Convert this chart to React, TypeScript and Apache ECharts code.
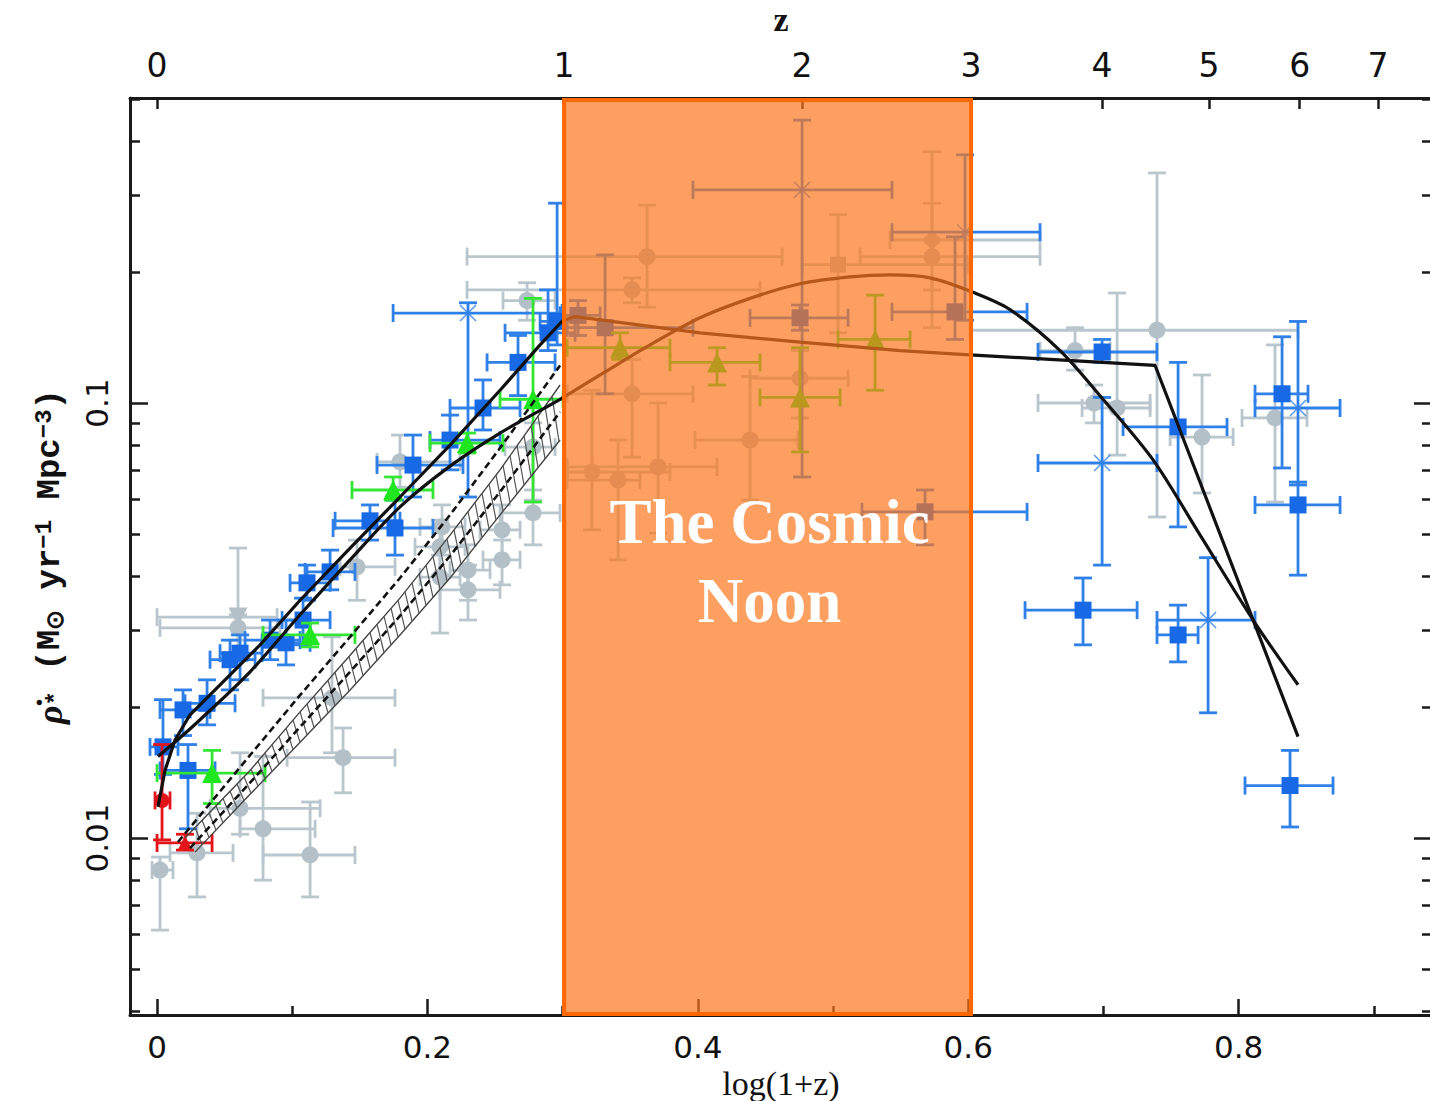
import React, { useEffect, useRef } from "react";
import * as echarts from "echarts";

// ---------- axes ----------
const xTickValues = [0, 0.2, 0.4, 0.6, 0.8];
const xMinorTickValues = [0.1, 0.3, 0.5, 0.7, 0.9];
const zTickLabels = [0, 1, 2, 3, 4, 5, 6, 7];
const yTickValues = [0.01, 0.1];
const yMinorTickValues = [
  0.004, 0.005, 0.006, 0.007, 0.008, 0.009,
  0.02, 0.03, 0.04, 0.05, 0.06, 0.07, 0.08, 0.09,
  0.2, 0.3, 0.4, 0.5,
];
const cosmicNoonZ = [1, 3];
const cosmicNoonLabelY = 0.0432;

// ---------- data: [log(1+z), rho, xLo, xHi, yLo, yHi] ----------
const grayCircles = [
  [0.0022, 0.00844, -0.0037, 0.0118, 0.00614, 0.00904],
  [0.0296, 0.00924, 0.0096, 0.0562, 0.00732, 0.0114],
  [0.0614, 0.0117, 0.0392, 0.1206, 0.0102, 0.0157],
  [0.0784, 0.0105, 0.0614, 0.1169, 0.008, 0.0154],
  [0.1132, 0.00914, 0.0784, 0.1464, 0.00732, 0.0121],
  [0.1376, 0.0153, 0.0962, 0.176, 0.0127, 0.0179],
  [0.1294, 0.021, 0.0784, 0.176, 0.0157, 0.029],
  [0.0599, 0.0304, 0.0022, 0.091, 0.0285, 0.0326],
  [0.1479, 0.042, 0.1354, 0.176, 0.0352, 0.0484],
  [0.2093, 0.0467, 0.1908, 0.2278, 0.0402, 0.0538],
  [0.2093, 0.0398, 0.1945, 0.2241, 0.0296, 0.0447],
  [0.23, 0.0413, 0.2167, 0.2463, 0.0352, 0.0472],
  [0.23, 0.0372, 0.2093, 0.2537, 0.0317, 0.0424],
  [0.2552, 0.0511, 0.2389, 0.2685, 0.0436, 0.0583],
  [0.2552, 0.0436, 0.2411, 0.2685, 0.0382, 0.0484],
  [0.2781, 0.0559, 0.2537, 0.2981, 0.0472, 0.0631],
  [0.2781, 0.0792, 0.2574, 0.2944, 0.0598, 0.09],
  [0.1797, 0.0732, 0.1627, 0.2241, 0.064, 0.0844],
  [0.2108, 0.0519, 0.1945, 0.2278, 0.0467, 0.0583],
  [0.2737, 0.172, 0.2559, 0.2944, 0.155, 0.189],
  [0.3624, 0.217, 0.2293, 0.4623, 0.166, 0.285],
  [0.3513, 0.182, 0.2293, 0.446, 0.17, 0.194],
  [0.3513, 0.105, 0.3033, 0.3964, 0.0751, 0.126],
  [0.3217, 0.0694, 0.3033, 0.3794, 0.0511, 0.107],
  [0.341, 0.0665, 0.3033, 0.3572, 0.0436, 0.0822],
  [0.3706, 0.0713, 0.3033, 0.4142, 0.0502, 0.1],
  [0.4386, 0.0822, 0.3979, 0.4741, 0.0598, 0.115],
  [0.4756, 0.114, 0.4386, 0.5111, 0.0924, 0.132],
  [0.5732, 0.217, 0.52, 0.6531, 0.149, 0.378],
  [0.7396, 0.147, 0.6013, 0.8439, 0.0547, 0.338],
  [0.679, 0.132, 0.6531, 0.7049, 0.119, 0.149],
  [0.7101, 0.0974, 0.6842, 0.7345, 0.0759, 0.179],
  [0.7729, 0.0835, 0.7493, 0.7959, 0.0621, 0.116],
  [0.8269, 0.0924, 0.8025, 0.8506, 0.0592, 0.136],
  [0.693, 0.1, 0.6516, 0.7345, 0.09, 0.11],
];
const graySquares = [[0.5037, 0.208, 0.4771, 0.5999, 0.145, 0.271]];
const grayDiamonds = [[0.5732, 0.237, 0.5422, 0.6531, 0.182, 0.288]];
const grayTriangles = [[0.0599, 0.0322, 0, 0.0888, 0.0257, 0.0464]];

const blueSquares = [
  [0.0044, 0.0162, -0.0052, 0.0155, 0.014, 0.0208],
  [0.0192, 0.0197, 0.0022, 0.0392, 0.0172, 0.0219],
  [0.037, 0.0204, 0.0207, 0.0577, 0.0182, 0.0231],
  [0.0229, 0.0143, 0.0022, 0.0429, 0.0105, 0.0164],
  [0.054, 0.0257, 0.0392, 0.0725, 0.0219, 0.0285],
  [0.0614, 0.0266, 0.0466, 0.0777, 0.0231, 0.0293],
  [0.0836, 0.0285, 0.0651, 0.1058, 0.0257, 0.0317],
  [0.0954, 0.0281, 0.0777, 0.1132, 0.025, 0.0317],
  [0.108, 0.0317, 0.0925, 0.128, 0.0278, 0.0356],
  [0.1109, 0.0386, 0.0984, 0.128, 0.0352, 0.0424],
  [0.128, 0.0409, 0.1095, 0.1464, 0.0372, 0.0459],
  [0.1575, 0.0536, 0.1317, 0.1797, 0.0484, 0.0583],
  [0.176, 0.0516, 0.1302, 0.2041, 0.0447, 0.0598],
  [0.1893, 0.072, 0.1627, 0.2263, 0.0608, 0.0844],
  [0.2167, 0.0822, 0.2019, 0.2537, 0.0702, 0.0938],
  [0.2411, 0.0974, 0.2167, 0.2685, 0.0867, 0.113],
  [0.267, 0.124, 0.2441, 0.2944, 0.104, 0.143],
  [0.2892, 0.145, 0.2574, 0.3092, 0.132, 0.182],
  [0.2959, 0.154, 0.2833, 0.3092, 0.136, 0.288],
  [0.3114, 0.159, 0.2981, 0.3277, 0.143, 0.172],
  [0.3314, 0.149, 0.3033, 0.3964, 0.105, 0.219],
  [0.4756, 0.157, 0.4386, 0.5111, 0.147, 0.168],
  [0.5902, 0.162, 0.5436, 0.6435, 0.14, 0.241],
  [0.568, 0.0562, 0.5214, 0.6435, 0.0472, 0.0631],
  [0.699, 0.131, 0.6516, 0.7396, 0.124, 0.14],
  [0.7552, 0.0881, 0.7145, 0.7914, 0.0519, 0.124],
  [0.8321, 0.105, 0.8121, 0.8513, 0.0709, 0.142],
  [0.8439, 0.0583, 0.8121, 0.875, 0.0402, 0.0658],
  [0.6849, 0.0334, 0.642, 0.7249, 0.0278, 0.0396],
  [0.7552, 0.0293, 0.7396, 0.77, 0.0254, 0.0343],
  [0.838, 0.0132, 0.8047, 0.8698, 0.0106, 0.0159],
];
const blueCrosses = [
  [0.23, 0.161, 0.1746, 0.2996, 0.0608, 0.17],
  [0.4771, 0.309, 0.3964, 0.5436, 0.0676, 0.447],
  [0.5976, 0.247, 0.5436, 0.6531, 0.155, 0.372],
  [0.699, 0.0728, 0.6516, 0.7396, 0.0424, 0.103],
  [0.7774, 0.0317, 0.7396, 0.8121, 0.0194, 0.0441],
  [0.8439, 0.0974, 0.8121, 0.875, 0.0648, 0.154],
];
const greenTriangles = [
  [0.0407, 0.0141, 0, 0.0799, 0.012, 0.0159],
  [0.1132, 0.0293, 0.0784, 0.1464, 0.0275, 0.0312],
  [0.1746, 0.0631, 0.1442, 0.2041, 0.0598, 0.0676],
  [0.2293, 0.0809, 0.2019, 0.2559, 0.0768, 0.0853],
  [0.2781, 0.102, 0.2537, 0.3003, 0.0592, 0.174],
  [0.3425, 0.134, 0.3033, 0.3794, 0.126, 0.145],
  [0.4142, 0.124, 0.3794, 0.446, 0.11, 0.134],
  [0.4756, 0.103, 0.446, 0.5052, 0.0772, 0.134],
  [0.5311, 0.14, 0.5037, 0.557, 0.107, 0.177],
];
const redCircles = [[0.0037, 0.0122, -0.0015, 0.0096, 0.0099, 0.0164]];
const redStars = [[0.0207, 0.00974, 0, 0.0407, 0.00938, 0.0102]];

// ---------- fits ----------
const fitBroken = [
  [0.0007, 0.0118], [0.0059, 0.0143], [0.0133, 0.0168], [0.0244, 0.0192],
  [0.0466, 0.0225], [0.0762, 0.0278], [0.1058, 0.0352], [0.1428, 0.0464],
  [0.1797, 0.0608], [0.2167, 0.08], [0.2537, 0.107], [0.2833, 0.136],
  [0.3003, 0.155], [0.3092, 0.158], [0.4016, 0.145], [0.4756, 0.138],
  [0.5496, 0.132], [0.6013, 0.129], [0.6605, 0.126], [0.7382, 0.122],
  [0.8439, 0.0171],
];
const fitSmooth = [
  [0.0007, 0.0154], [0.017, 0.017], [0.0318, 0.0187], [0.0688, 0.0241],
  [0.1058, 0.0326], [0.1428, 0.0436], [0.1797, 0.0577], [0.2167, 0.0716],
  [0.2537, 0.0853], [0.2981, 0.102], [0.3277, 0.116], [0.3646, 0.136],
  [0.4016, 0.157], [0.4386, 0.174], [0.4756, 0.188], [0.5126, 0.195],
  [0.5422, 0.197], [0.5717, 0.194], [0.605, 0.179], [0.6309, 0.164],
  [0.6679, 0.132], [0.6997, 0.102], [0.7367, 0.074], [0.7715, 0.0497],
  [0.8107, 0.0317], [0.8439, 0.0225],
];
const dashedUpper = [
  [0.0155, 0.00979], [0.0688, 0.0155], [0.1058, 0.0213], [0.1428, 0.029],
  [0.1797, 0.0396], [0.2167, 0.0553], [0.2537, 0.0788], [0.2981, 0.122],
];
const dashedLower = [
  [0.0244, 0.00948], [0.0688, 0.0134], [0.1058, 0.018], [0.1428, 0.0241],
  [0.1797, 0.0324], [0.2167, 0.0445], [0.2537, 0.0625], [0.2981, 0.0954],
];
const bandUpper = [
  [0.0207, 0.01], [0.0688, 0.0143], [0.1058, 0.0195], [0.1428, 0.0263],
  [0.1797, 0.0356], [0.2167, 0.0497], [0.2537, 0.0702], [0.2981, 0.11],
];
const bandLower = [
  [0.0281, 0.00928], [0.0688, 0.0126], [0.1058, 0.0166], [0.1428, 0.0219],
  [0.1797, 0.0293], [0.2167, 0.0396], [0.2537, 0.0553], [0.2981, 0.0822],
];

const X_MIN = -0.02;
const X_MAX = 0.943;
const Y_MIN = 0.003918;
const Y_MAX = 0.5026;

const FRAME = "#1a1a1a";

function errorBars(rows: number[][], color: string, z: number) {
  return {
    type: "custom",
    z,
    data: rows,
    encode: { x: [0, 2, 3], y: [1, 4, 5] },
    renderItem: (_p: any, api: any) => {
      const x = api.value(0), y = api.value(1);
      const pL = api.coord([api.value(2), y]);
      const pR = api.coord([api.value(3), y]);
      const pB = api.coord([x, api.value(4)]);
      const pT = api.coord([x, api.value(5)]);
      const c = 9;
      const style = { stroke: color, lineWidth: 2.8 };
      const seg = (x1: number, y1: number, x2: number, y2: number) => ({
        type: "line", shape: { x1, y1, x2, y2 }, style,
      });
      return {
        type: "group",
        children: [
          seg(pL[0], pL[1], pR[0], pR[1]),
          seg(pB[0], pB[1], pT[0], pT[1]),
          seg(pL[0], pL[1] - c, pL[0], pL[1] + c),
          seg(pR[0], pR[1] - c, pR[0], pR[1] + c),
          seg(pB[0] - c, pB[1], pB[0] + c, pB[1]),
          seg(pT[0] - c, pT[1], pT[0] + c, pT[1]),
        ],
      };
    },
  };
}

function markers(rows: number[][], symbol: string, size: number, color: string, z: number, extra: any = {}) {
  return {
    type: "scatter",
    z,
    symbol,
    symbolSize: size,
    data: rows.map((r) => [r[0], r[1]]),
    itemStyle: { color, opacity: 1 },
    ...extra,
  };
}

function fitLine(pts: number[][], dashed: boolean, width: number, z: number, smooth: number | boolean = false) {
  return {
    type: "line",
    z,
    data: pts,
    showSymbol: false,
    smooth,
    lineStyle: { color: "#111", width, type: dashed ? [7, 4] : "solid" },
  };
}

function interpY(pts: number[][], px: number) {
  for (let i = 0; i < pts.length - 1; i++) {
    const a = pts[i], b = pts[i + 1];
    if (px >= a[0] && px <= b[0]) {
      const t = (px - a[0]) / (b[0] - a[0] || 1);
      return a[1] + t * (b[1] - a[1]);
    }
  }
  return pts[pts.length - 1][1];
}

const bandSeries = {
  type: "custom",
  z: 6,
  data: [[0.15, 0.03]],
  renderItem: (_p: any, api: any) => {
    const up = bandUpper.map((p) => api.coord(p));
    const lo = bandLower.map((p) => api.coord(p));
    const children: any[] = [
      { type: "polyline", shape: { points: up }, style: { stroke: "#444", lineWidth: 1.4, fill: null } },
      { type: "polyline", shape: { points: lo }, style: { stroke: "#444", lineWidth: 1.4, fill: null } },
    ];
    const x0 = Math.max(up[0][0], lo[0][0]);
    const x1 = Math.min(up[up.length - 1][0], lo[lo.length - 1][0]);
    for (let px = x0; px <= x1 - 7; px += 7) {
      children.push({
        type: "line",
        shape: { x1: px, y1: interpY(up, px), x2: px + 7, y2: interpY(lo, px + 7) },
        style: { stroke: "#555", lineWidth: 1.2 },
      });
    }
    return { type: "group", children };
  },
};

const noonSeries = {
  type: "custom",
  z: 20,
  silent: true,
  data: [[Math.log10(1 + cosmicNoonZ[0]), Math.log10(1 + cosmicNoonZ[1]), cosmicNoonLabelY]],
  encode: { x: [0, 1], y: 2 },
  renderItem: (params: any, api: any) => {
    const cs = params.coordSys;
    const a = api.coord([api.value(0), api.value(2)]);
    const b = api.coord([api.value(1), api.value(2)]);
    return {
      type: "group",
      children: [
        {
          type: "rect",
          shape: { x: a[0], y: cs.y + 2, width: b[0] - a[0], height: cs.height - 3 },
          style: { fill: "rgba(251,118,28,0.7)", stroke: "#ff6800", lineWidth: 4 },
        },
        {
          type: "text",
          style: {
            text: "The Cosmic\nNoon",
            x: (a[0] + b[0]) / 2 + 2,
            y: a[1],
            align: "center",
            verticalAlign: "middle",
            fill: "#ffffff",
            fontSize: 63,
            fontWeight: "bold",
            fontFamily: "Liberation Serif",
            lineHeight: 79,
          },
        },
      ],
    };
  },
};

const GRAY = "#b4c0c8";
const GRAY_BAR = "#bac6ce";
const BLUE = "#1769e6";
const BLUE_BAR = "#2f80e8";
const GREEN = "#1fe61f";
const GREEN_BAR = "#33e633";
const RED = "#e3151a";

const tickFont = { fontFamily: "DejaVu Sans", fontSize: 31, color: "#111" };
const noLine = { show: false, onZero: false };

const option: any = {
  animation: false,
  backgroundColor: "#ffffff",
  grid: { left: 130, top: 98, right: -2, bottom: 86, containLabel: false, outerBoundsMode: "none" },
  xAxis: [
    {
      type: "value", position: "bottom", min: X_MIN, max: X_MAX,
      axisLine: { show: true, onZero: false, lineStyle: { color: FRAME, width: 3 } },
      axisTick: { show: true, inside: true, length: 16, customValues: xTickValues, lineStyle: { color: FRAME, width: 2.5 } },
      axisLabel: { show: true, customValues: xTickValues, margin: 16, formatter: (v: number) => (v === 0 ? "0" : String(v)), ...tickFont },
      splitLine: { show: false },
      name: "log(1+z)", nameLocation: "middle", nameGap: 44,
      nameTextStyle: { fontFamily: "Liberation Serif", fontSize: 34, color: "#111" },
    },
    {
      type: "value", position: "bottom", min: X_MIN, max: X_MAX,
      axisLine: noLine,
      axisTick: { show: true, inside: true, length: 9, customValues: xMinorTickValues, lineStyle: { color: FRAME, width: 2.5 } },
      axisLabel: { show: false },
      splitLine: { show: false },
    },
    {
      type: "value", position: "top", min: X_MIN, max: X_MAX,
      axisLine: { show: true, onZero: false, lineStyle: { color: FRAME, width: 3 } },
      axisTick: { show: true, inside: true, length: 11, customValues: zTickLabels.map((z) => Math.log10(1 + z)), lineStyle: { color: FRAME, width: 2.5 } },
      axisLabel: {
        show: true, customValues: zTickLabels.map((z) => Math.log10(1 + z)), margin: 16,
        formatter: (v: number) => String(Math.round(Math.pow(10, v) - 1)),
        ...tickFont, fontSize: 33,
      },
      splitLine: { show: false },
      name: "z", nameLocation: "middle", nameGap: 62,
      nameTextStyle: { fontFamily: "Liberation Serif", fontSize: 34, fontWeight: "bold", color: "#111" },
    },
  ],
  yAxis: [
    {
      type: "log", logBase: 10, position: "left", min: Y_MIN, max: Y_MAX,
      axisLine: { show: true, onZero: false, lineStyle: { color: FRAME, width: 3 } },
      axisTick: { show: true, inside: true, length: 18, customValues: yTickValues, lineStyle: { color: FRAME, width: 2.5 } },
      axisLabel: {
        show: true, customValues: yTickValues, rotate: 90, margin: 18,
        formatter: (v: number) => (v < 0.05 ? "0.01" : "0.1"), ...tickFont,
      },
      splitLine: { show: false },
      minorTick: { show: false },
      name: "{r|ρ̇}{s|*} (M{s|⊙} yr{p|−1} Mpc{p|−3})",
      nameLocation: "middle", nameGap: 62, nameRotate: 90,
      nameTextStyle: {
        color: "#111",
        rich: {
          r: { fontFamily: "Liberation Serif", fontSize: 36, fontStyle: "italic", color: "#111" },
          s: { fontFamily: "Liberation Mono", fontSize: 24, fontWeight: "bold", verticalAlign: "bottom", color: "#111" },
          p: { fontFamily: "Liberation Mono", fontSize: 24, fontWeight: "bold", verticalAlign: "top", color: "#111" },
        },
        fontFamily: "Liberation Mono", fontSize: 34, fontWeight: "bold",
      },
    },
    {
      type: "log", logBase: 10, position: "left", min: Y_MIN, max: Y_MAX,
      axisLine: noLine,
      axisTick: { show: true, inside: true, length: 10, customValues: yMinorTickValues, lineStyle: { color: FRAME, width: 2.5 } },
      axisLabel: { show: false },
      splitLine: { show: false },
    },
    {
      type: "log", logBase: 10, position: "right", min: Y_MIN, max: Y_MAX,
      axisLine: noLine,
      axisTick: { show: true, inside: true, length: 18, customValues: yTickValues, lineStyle: { color: FRAME, width: 2.5 } },
      axisLabel: { show: false },
      splitLine: { show: false },
    },
    {
      type: "log", logBase: 10, position: "right", min: Y_MIN, max: Y_MAX,
      axisLine: noLine,
      axisTick: { show: true, inside: true, length: 10, customValues: yMinorTickValues, lineStyle: { color: FRAME, width: 2.5 } },
      axisLabel: { show: false },
      splitLine: { show: false },
    },
  ],
  series: [
    errorBars([...grayCircles, ...graySquares, ...grayDiamonds, ...grayTriangles], GRAY_BAR, 1),
    markers(grayCircles, "circle", 17, GRAY, 2),
    markers(graySquares, "rect", 16, GRAY, 2),
    markers(grayDiamonds, "diamond", 20, GRAY, 2),
    markers(grayTriangles, "triangle", 19, GRAY, 2, { symbolRotate: 180 }),
    errorBars([...blueSquares, ...blueCrosses], BLUE_BAR, 3),
    markers(blueSquares, "rect", 17, BLUE, 4),
    markers(blueCrosses, "path://M0,0L10,10M10,0L0,10M5,0L5,10M0,5L10,5", 16, "none", 4, {
      itemStyle: { color: "none", borderColor: BLUE_BAR, borderWidth: 1.5 },
    }),
    errorBars(greenTriangles, GREEN_BAR, 5),
    markers(greenTriangles, "triangle", 20, GREEN, 5),
    errorBars([...redCircles, ...redStars], RED, 5),
    markers(redCircles, "circle", 15, RED, 5),
    markers(redStars, "triangle", 15, RED, 5),
    bandSeries,
    fitLine(dashedUpper, true, 2.6, 7),
    fitLine(dashedLower, true, 2.6, 7),
    fitLine(fitBroken, false, 3.2, 8),
    fitLine(fitSmooth, false, 3.2, 8, 0.3),
    noonSeries,
  ],
};

export default function App() {
  const ref = useRef<HTMLDivElement>(null);
  useEffect(() => {
    const chart = echarts.init(ref.current as HTMLDivElement, null, { renderer: "svg" });
    chart.setOption(option);
    return () => chart.dispose();
  }, []);
  return (
    <div
      ref={ref}
      style={{ position: "fixed", left: 0, top: 0, width: 1430, height: 1101, background: "#ffffff" }}
    />
  );
}
